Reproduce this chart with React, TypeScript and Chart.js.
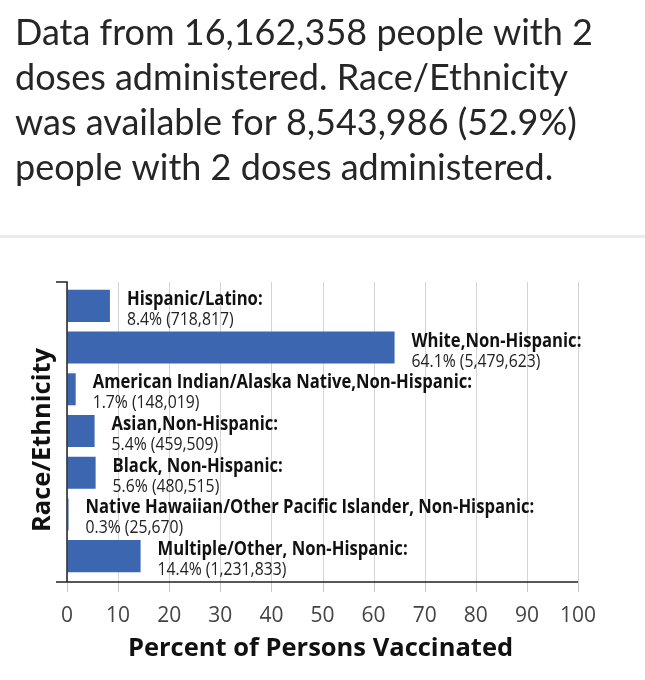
import React, { useEffect, useRef } from "react";
import { Chart, registerables } from "chart.js";

Chart.register(...registerables);

const titleLines = [
  "Data from 16,162,358 people with 2",
  "doses administered. Race/Ethnicity",
  "was available for 8,543,986 (52.9%)",
  "people with 2 doses administered.",
];

const categories = [
  "Hispanic/Latino:",
  "White,Non-Hispanic:",
  "American Indian/Alaska Native,Non-Hispanic:",
  "Asian,Non-Hispanic:",
  "Black, Non-Hispanic:",
  "Native Hawaiian/Other Pacific Islander, Non-Hispanic:",
  "Multiple/Other, Non-Hispanic:",
];

const percents = [8.4, 64.1, 1.7, 5.4, 5.6, 0.3, 14.4];
const counts = ["718,817", "5,479,623", "148,019", "459,509", "480,515", "25,670", "1,231,833"];

const xTickValues = [0, 10, 20, 30, 40, 50, 60, 70, 80, 90, 100];
const yAxisTitle = "Race/Ethnicity";
const xAxisTitle = "Percent of Persons Vaccinated";

const W = 645;
const H = 680;
const FONT = "'Open Sans', 'DejaVu Sans', sans-serif";
const AXIS_TOP = 282;
const AXIS_BOTTOM = 582;
const PLOT_TOP = 285;
const PLOT_BOTTOM = 577;

function drawScaled(
  ctx: CanvasRenderingContext2D,
  text: string,
  x: number,
  y: number,
  font: string,
  color: string,
  align: CanvasTextAlign,
  sx = 1
) {
  ctx.save();
  ctx.font = font;
  ctx.fillStyle = color;
  ctx.textAlign = align;
  ctx.textBaseline = "alphabetic";
  ctx.translate(x, y);
  ctx.scale(sx, 1);
  ctx.fillText(text, 0, 0);
  ctx.restore();
}

const decorPlugin = {
  id: "decor",
  beforeDraw(chart: any) {
    const ctx = chart.ctx as CanvasRenderingContext2D;
    ctx.save();
    ctx.fillStyle = "#ffffff";
    ctx.fillRect(0, 0, W, H);
    titleLines.forEach((line, i) => {
      drawScaled(ctx, line, 15, 45 + i * 45, "36px Lato, 'Open Sans', sans-serif", "#262626", "left");
    });
    ctx.fillStyle = "#ebebeb";
    ctx.fillRect(0, 235, W, 3);
    ctx.restore();
  },
  beforeDatasetsDraw(chart: any) {
    const ctx = chart.ctx as CanvasRenderingContext2D;
    const xs = chart.scales.x;
    ctx.save();
    xTickValues.forEach((v) => {
      const px = Math.round(xs.getPixelForValue(v)) + 0.5;
      ctx.strokeStyle = "#d4d4d4";
      ctx.lineWidth = 1;
      ctx.beginPath();
      ctx.moveTo(px, AXIS_TOP);
      ctx.lineTo(px, AXIS_BOTTOM);
      ctx.stroke();
      ctx.strokeStyle = "#c6c6c6";
      ctx.beginPath();
      ctx.moveTo(px, AXIS_BOTTOM);
      ctx.lineTo(px, AXIS_BOTTOM + 10);
      ctx.stroke();
    });
    ctx.restore();
  },
  afterDatasetsDraw(chart: any) {
    const ctx = chart.ctx as CanvasRenderingContext2D;
    const xs = chart.scales.x;
    const x0 = xs.getPixelForValue(0);
    const x100 = xs.getPixelForValue(100);
    ctx.save();
    ctx.strokeStyle = "#222";
    ctx.lineWidth = 1.5;
    ctx.beginPath();
    ctx.moveTo(x0 - 11, AXIS_TOP);
    ctx.lineTo(x0, AXIS_TOP);
    ctx.lineTo(x0, AXIS_BOTTOM);
    ctx.moveTo(x0 - 11, AXIS_BOTTOM);
    ctx.lineTo(x100, AXIS_BOTTOM);
    ctx.stroke();
    ctx.restore();
  },
  afterDraw(chart: any) {
    const ctx = chart.ctx as CanvasRenderingContext2D;
    const area = chart.chartArea;
    ctx.save();
    drawScaled(ctx, xAxisTitle, (area.left + area.right) / 2 - 2, 656, `bold 25.5px ${FONT}`, "#111", "center");
    ctx.save();
    ctx.translate(50, 440);
    ctx.rotate(-Math.PI / 2);
    ctx.font = `bold 25.5px ${FONT}`;
    ctx.fillStyle = "#111";
    ctx.textAlign = "center";
    ctx.textBaseline = "alphabetic";
    ctx.fillText(yAxisTitle, 0, 0);
    ctx.restore();
    const meta = chart.getDatasetMeta(0);
    meta.data.forEach((bar: any, i: number) => {
      const top = bar.y - bar.height / 2;
      const x = bar.x + 17;
      drawScaled(ctx, categories[i], x, top + 15, `bold 19px ${FONT}`, "#111", "left", 0.875);
      drawScaled(ctx, `${percents[i]}% (${counts[i]})`, x, top + 35, `17.5px ${FONT}`, "#222", "left", 0.9);
    });
    ctx.restore();
  },
};

export default function App() {
  const ref = useRef<HTMLCanvasElement>(null);
  useEffect(() => {
    if (!ref.current) return;
    const chart = new Chart(ref.current, {
      type: "bar",
      data: {
        labels: categories,
        datasets: [
          {
            data: percents,
            backgroundColor: "#3c66b0",
            borderWidth: 0,
            categoryPercentage: 0.8,
            barPercentage: 0.96,
          },
        ],
      },
      options: {
        indexAxis: "y",
        responsive: false,
        animation: false,
        devicePixelRatio: 1,
        layout: { padding: { top: PLOT_TOP, right: 67, left: 0, bottom: 0 } },
        plugins: {
          legend: { display: false },
          tooltip: { enabled: false },
          title: { display: false },
        },
        scales: {
          x: {
            min: 0,
            max: 100,
            afterBuildTicks: (s: any) => {
              s.ticks = xTickValues.map((v) => ({ value: v }));
            },
            afterFit: (s: any) => {
              s.height = H - PLOT_BOTTOM;
            },
            ticks: {
              font: { family: FONT, size: 21 },
              color: "#444",
              padding: 16,
            },
            grid: {
              display: true,
              drawOnChartArea: false,
              color: "rgba(0,0,0,0)",
              tickColor: "rgba(0,0,0,0)",
              drawTicks: true,
              tickLength: 10,
            },
            border: { display: false },
          },
          y: {
            ticks: { display: false },
            grid: { display: false },
            border: { display: false },
            afterFit: (s: any) => {
              s.width = 67;
            },
          },
        },
      },
      plugins: [decorPlugin],
    });
    return () => chart.destroy();
  }, []);
  return (
    <div style={{ position: "absolute", left: 0, top: 0, width: W, height: H, background: "#fff" }}>
      <canvas ref={ref} width={W} height={H} style={{ display: "block", width: W, height: H }} />
    </div>
  );
}
